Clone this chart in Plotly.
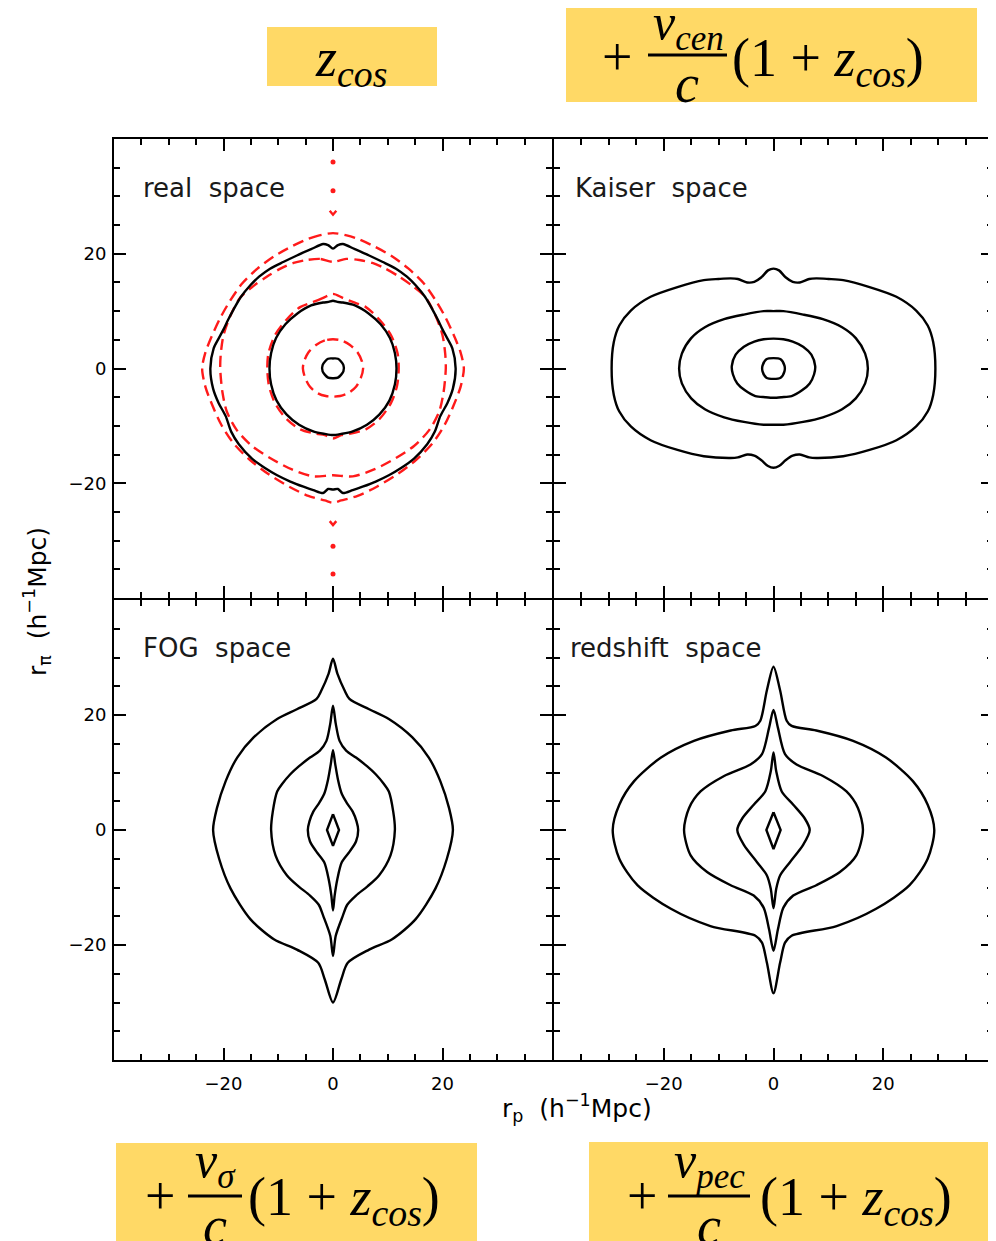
import plotly.graph_objects as go
from plotly.subplots import make_subplots

# page has an 8px body margin; the figure fills the rest of the 996x1241 window
OFF = 8
W, H = 996 - OFF, 1241 - OFF

# ---------------- data (h^-1 Mpc) ----------------
AXIS_RANGE = [-40, 40]
MAJOR_TICKS = [-20, 0, 20]
MINOR_STEP = 5
PANEL_NAMES = ["real  space", "Kaiser  space", "FOG  space", "redshift  space"]

# each contour: left half (r_p <= 0), listed from top to bottom; mirrored about r_p = 0
REAL_BLACK = [
    [(0, 1.75), (-0.9, 1.7), (-1.9, 0.6), (-1.9, -0.5), (-0.9, -1.6), (0, -1.7)],
    [(0, 11.8), (-0.8, 11.6), (-1.8, 11.5), (-4.0, 11.0), (-6.5, 9.6), (-8.7, 7.7), (-10.4, 5.3),
     (-11.3, 2.7), (-11.6, 0), (-11.3, -2.8), (-10.3, -5.6), (-8.5, -8.0), (-6.2, -9.8),
     (-3.5, -11.0), (-1.5, -11.4), (0, -11.6)],
    [(0, 20.9), (-0.9, 21.5), (-1.8, 21.7), (-4.0, 20.8), (-6.6, 19.7), (-9.0, 18.6), (-11.5, 17.4),
     (-13.5, 16.0), (-15.1, 14.5), (-16.8, 12.5), (-18.1, 10.4), (-19.2, 8.4), (-19.9, 7.0),
     (-20.9, 5.2), (-21.8, 3.5), (-22.4, 0), (-21.9, -3.5), (-20.9, -6.0), (-19.6, -8.3),
     (-18.6, -11.0), (-17.2, -13.2), (-14.8, -15.7), (-12.5, -17.3), (-10.2, -18.6),
     (-7.8, -19.7), (-5.4, -20.6), (-3.6, -21.2), (-1.8, -21.7), (-0.9, -21.0), (0, -21.1)],
]
REAL_RED = [
    [(0, 5.1), (-1.5, 4.9), (-3.1, 4.1), (-4.5, 2.8), (-5.3, 1.2), (-5.5, 0), (-5.1, -1.6),
     (-4.2, -3.2), (-2.8, -4.3), (-1.3, -4.8), (0, -4.9)],
    [(0, 13.0), (-1.8, 12.3), (-3.6, 11.6), (-6.0, 10.7), (-8.5, 8.5), (-10.6, 5.8), (-11.8, 2.6),
     (-12.0, 0), (-11.7, -3.0), (-10.6, -6.0), (-8.5, -8.8), (-6.0, -10.6), (-3.0, -11.4),
     (-1.5, -11.6), (0, -12.2)],
    [(0, 18.6), (-2.4, 19.1), (-4.8, 18.9), (-7.2, 18.4), (-9.6, 17.4), (-12.1, 16.0), (-14.5, 14.4),
     (-16.9, 12.4), (-18.7, 9.3), (-20.0, 5.8), (-20.5, 2.5), (-20.6, 0), (-20.2, -4.1),
     (-19.4, -7.5), (-17.6, -10.7), (-14.8, -13.5), (-11.5, -15.6), (-7.5, -17.6), (-3.6, -18.8),
     (0, -18.6)],
    [(0, 23.6), (-2.5, 23.2), (-4.5, 22.6), (-7.5, 21.3), (-10.7, 19.6), (-13.8, 17.4), (-16.6, 14.8),
     (-18.8, 11.8), (-20.6, 8.8), (-22.2, 5.5), (-23.3, 2.8), (-23.9, 0), (-23.3, -3.2),
     (-22.0, -6.5), (-20.4, -9.8), (-18.2, -13.0), (-15.2, -15.9), (-11.8, -18.4), (-8.0, -20.6),
     (-4.5, -22.2), (-1.5, -23.0), (0, -23.4)],
]
REAL_RED_DOTS_Y = [36.0, 31.0, -31.0, -35.8]
REAL_RED_VEES = [
    [(-0.6, 27.5), (0, 26.8), (0.6, 27.5)],
    [(-0.6, -26.6), (0, -27.3), (0.6, -26.6)],
]
KAISER = [
    [(0, 1.8), (-1.3, 1.6), (-2.0, 0.5), (-2.0, -0.5), (-1.3, -1.6), (0, -1.8)],
    [(0, 5.2), (-1.8, 5.1), (-3.5, 4.7), (-5.4, 3.8), (-6.9, 2.4), (-7.6, 0.4), (-7.4, -1.0),
     (-6.6, -2.6), (-5.2, -3.8), (-3.3, -4.8), (-1.5, -5.0), (0, -5.1)],
    [(0, 10.0), (-1.8, 10.0), (-5.4, 9.4), (-9.0, 8.6), (-12.5, 7.2), (-15.0, 5.3), (-16.7, 2.6),
     (-17.2, 0), (-16.7, -2.6), (-15.0, -5.2), (-12.5, -7.1), (-9.0, -8.5), (-5.4, -9.3),
     (-1.8, -9.8), (0, -9.8)],
    [(0, 17.4), (-1.0, 17.1), (-2.2, 15.9), (-3.5, 15.1), (-4.8, 15.0), (-6.5, 15.6), (-7.8, 15.7),
     (-10.0, 15.6), (-12.7, 15.4), (-17.5, 14.2), (-22.4, 12.5), (-26.0, 10.1), (-28.1, 7.5),
     (-29.1, 4.6), (-29.5, 0), (-29.1, -4.6), (-28.1, -7.5), (-26.0, -10.1), (-22.4, -12.5),
     (-17.5, -14.2), (-12.7, -15.3), (-7.8, -15.6), (-6.5, -15.5), (-4.8, -15.0), (-3.5, -15.2),
     (-2.2, -16.0), (-1.0, -17.0), (0, -17.3)],
]
FOG = [
    [(0, 2.75), (-1.1, 0), (0, -2.75)],
    [(0, 13.9), (-0.4, 11.5), (-0.9, 8.8), (-1.6, 6.3), (-2.6, 4.6), (-3.6, 3.2), (-4.3, 1.5),
     (-4.6, 0), (-4.2, -2.0), (-3.0, -3.8), (-1.6, -5.6), (-0.8, -8.5), (-0.3, -11.4), (0, -14.0)],
    [(0, 21.6), (-0.5, 18.5), (-1.2, 15.5), (-2.4, 13.8), (-4.2, 12.6), (-6.2, 11.1), (-7.8, 9.7),
     (-9.3, 8.0), (-10.2, 6.7), (-11.0, 3.2), (-11.3, 0), (-10.5, -4.4), (-8.4, -7.9),
     (-6.3, -9.8), (-4.2, -11.4), (-2.6, -13.0), (-1.8, -14.9), (-0.5, -18.4), (0, -21.9)],
    [(0, 29.8), (-0.8, 27.2), (-2.1, 24.3), (-3.0, 22.8), (-6.6, 21.0), (-10.2, 19.3),
     (-14.5, 16.1), (-17.5, 12.6), (-19.6, 8.5), (-21.2, 3.8), (-21.9, 0), (-20.8, -5.0),
     (-18.7, -10.2), (-15.1, -15.5), (-10.8, -19.0), (-6.6, -20.8), (-2.7, -23.1), (-1.5, -26.0),
     (0, -30.0)],
]
REDSHIFT = [
    [(0, 3.1), (-1.3, 0), (0, -3.3)],
    [(0, 13.5), (-0.5, 10.2), (-1.5, 6.7), (-3.6, 4.4), (-5.7, 2.0), (-6.6, 0), (-5.4, -2.6),
     (-3.0, -5.6), (-1.2, -7.9), (-0.5, -10.2), (0, -13.6)],
    [(0, 20.9), (-0.8, 17.8), (-2.1, 13.2), (-4.2, 11.4), (-9.0, 9.4), (-13.3, 6.7), (-15.4, 3.8),
     (-16.3, 0), (-15.1, -4.4), (-12.1, -7.3), (-7.8, -9.6), (-3.6, -11.4), (-1.8, -13.5),
     (-0.8, -17.3), (0, -21.0)],
    [(0, 28.4), (-1.2, 24.3), (-2.4, 19.0), (-3.3, 18.1), (-7.8, 17.3), (-14.5, 15.5),
     (-20.5, 12.6), (-25.4, 8.5), (-28.1, 4.4), (-29.3, 0), (-28.1, -5.0), (-24.8, -9.6),
     (-18.7, -13.7), (-11.5, -16.7), (-3.3, -18.4), (-2.1, -19.6), (-1.2, -23.1), (0, -28.4)],
]


def close_loop(half):
    left = list(half)
    right = [(-x, y) for (x, y) in reversed(half)]
    pts = left + right[1:]
    return [p[0] for p in pts], [p[1] for p in pts]


fig = make_subplots(rows=2, cols=2, horizontal_spacing=0, vertical_spacing=0)

REDC = "#ff1a1a"
BLACK = dict(color="black", width=2.4)
RED = dict(color=REDC, width=2.4, dash="11px,6px")


def add_contours(contours, row, col, line, shape="spline"):
    for c in contours:
        xs, ys = close_loop(c)
        sh = "linear" if len(c) <= 3 else shape
        fig.add_trace(go.Scatter(x=xs, y=ys, mode="lines", line=dict(**line, shape=sh, smoothing=0.8),
                                 hoverinfo="skip", showlegend=False), row=row, col=col)


add_contours(REAL_RED, 1, 1, RED)
for v in REAL_RED_VEES:
    fig.add_trace(go.Scatter(x=[p[0] for p in v], y=[p[1] for p in v], mode="lines",
                             line=dict(color=REDC, width=2.4), showlegend=False), row=1, col=1)
fig.add_trace(go.Scatter(x=[0] * len(REAL_RED_DOTS_Y), y=REAL_RED_DOTS_Y, mode="markers",
                         marker=dict(color=REDC, size=5), showlegend=False), row=1, col=1)
add_contours(REAL_BLACK, 1, 1, BLACK)
add_contours(KAISER, 1, 2, BLACK)
add_contours(FOG, 2, 1, BLACK)
add_contours(REDSHIFT, 2, 2, BLACK)


def fx(px_):
    return (px_ - OFF) / W


def fy(py_):
    return 1 - (py_ - OFF) / H


# panel frames (page px): columns 114 | 553 | 993, rows 139 | 599 | 1060
XDOM = [[fx(114), fx(552)], [fx(554), fx(993)]]
YDOM = [[fy(598), fy(139)], [fy(1060), fy(600)]]

axis_common = dict(
    range=AXIS_RANGE, tickmode="array", tickvals=MAJOR_TICKS,
    ticks="inside", ticklen=12, tickwidth=2, tickcolor="black",
    showline=True, linewidth=2, linecolor="black", mirror="allticks",
    showgrid=False, zeroline=False,
    minor=dict(ticks="inside", ticklen=6, tickwidth=1.8, tickcolor="black",
               tick0=0, dtick=MINOR_STEP, showgrid=False),
    tickfont=dict(family="DejaVu Sans", size=18, color="black"),
)

for r in (1, 2):
    for c in (1, 2):
        fig.update_xaxes(**axis_common, domain=XDOM[c - 1], showticklabels=(r == 2),
                         ticklabelstandoff=6, row=r, col=c)
        fig.update_yaxes(**axis_common, domain=YDOM[r - 1], showticklabels=(c == 1),
                         ticklabelstandoff=2, row=r, col=c)

annotations = []
label_pos = [(-35.0, 31.5, "x", "y"), (-36.6, 31.5, "x2", "y2"),
             (-35.0, 31.6, "x3", "y3"), (-37.5, 31.6, "x4", "y4")]
for name, (lx, ly, xr, yr) in zip(PANEL_NAMES, label_pos):
    annotations.append(dict(x=lx, y=ly, xref=xr, yref=yr, text=name, showarrow=False,
                            xanchor="left", yanchor="middle",
                            font=dict(family="DejaVu Sans", size=26, color="#1a1a1a")))


def P(x, y):
    return fx(x), fy(y)


ax_font = dict(family="DejaVu Sans", size=25, color="black")
x0, y0 = P(577, 1108)
annotations.append(dict(x=x0, y=y0, xref="paper", yref="paper", showarrow=False,
                        text="r<sub>p</sub>  (h<sup>−1</sup>Mpc)", font=ax_font,
                        xanchor="center", yanchor="middle"))
x0, y0 = P(37, 602)
annotations.append(dict(x=x0, y=y0, xref="paper", yref="paper", showarrow=False, textangle=-90,
                        text="r<sub>π</sub>  (h<sup>−1</sup>Mpc)", font=ax_font,
                        xanchor="center", yanchor="middle"))

# ---- yellow formula boxes ----
YELLOW = "#FFD966"
shapes = []
for (bx0, by0, bx1, by1) in [(267, 27, 437, 86), (566, 3, 977, 102),
                             (116, 1143, 477, 1241), (589, 1142, 996, 1241)]:
    a0, b1 = P(bx0, by0)
    a1, b0 = P(bx1, by1)
    shapes.append(dict(type="rect", xref="paper", yref="paper", x0=a0, x1=a1, y0=b0, y1=b1,
                       fillcolor=YELLOW, line=dict(width=0), layer="below"))

MF = "Liberation Serif"
MS = 54


def mtext(txt, x, y, anchor="center", size=MS):
    px_, py_ = P(x, y)
    annotations.append(dict(x=px_, y=py_, xref="paper", yref="paper", text=txt, showarrow=False,
                            xanchor=anchor, yanchor="middle",
                            font=dict(family=MF, size=size, color="black")))


def frac_bar(xa, xb, y):
    a, yy = P(xa, y)
    b, _ = P(xb, y)
    shapes.append(dict(type="line", xref="paper", yref="paper", x0=a, x1=b, y0=yy, y1=yy,
                       line=dict(color="black", width=3)))


ZCOS = "<i>z</i><sub><i>cos</i></sub>"
PAREN = "(1 + " + ZCOS + ")"
NUM_SIZE = 50

mtext(ZCOS, 351, 62)

mtext("+", 617, 57)
mtext("<i>v</i><sub><i>cen</i></sub>", 688, 26, size=NUM_SIZE)
frac_bar(648, 727, 55)
mtext("<i>c</i>", 687, 84)
mtext(PAREN, 730, 62, anchor="left")

mtext("+", 160, 1196)
mtext("<i>v</i><sub><i>σ</i></sub>", 215, 1164, size=NUM_SIZE)
frac_bar(188, 242, 1196)
mtext("<i>c</i>", 215, 1226)
mtext(PAREN, 246, 1200, anchor="left")

mtext("+", 642, 1196)
mtext("<i>v</i><sub><i>pec</i></sub>", 709, 1164, size=NUM_SIZE)
frac_bar(668, 750, 1196)
mtext("<i>c</i>", 709, 1226)
mtext(PAREN, 758, 1200, anchor="left")

fig.update_layout(width=W, height=H, margin=dict(l=0, r=0, t=0, b=0),
                  paper_bgcolor="white", plot_bgcolor="white", showlegend=False,
                  annotations=annotations, shapes=shapes)

fig.write_html("out.html")
